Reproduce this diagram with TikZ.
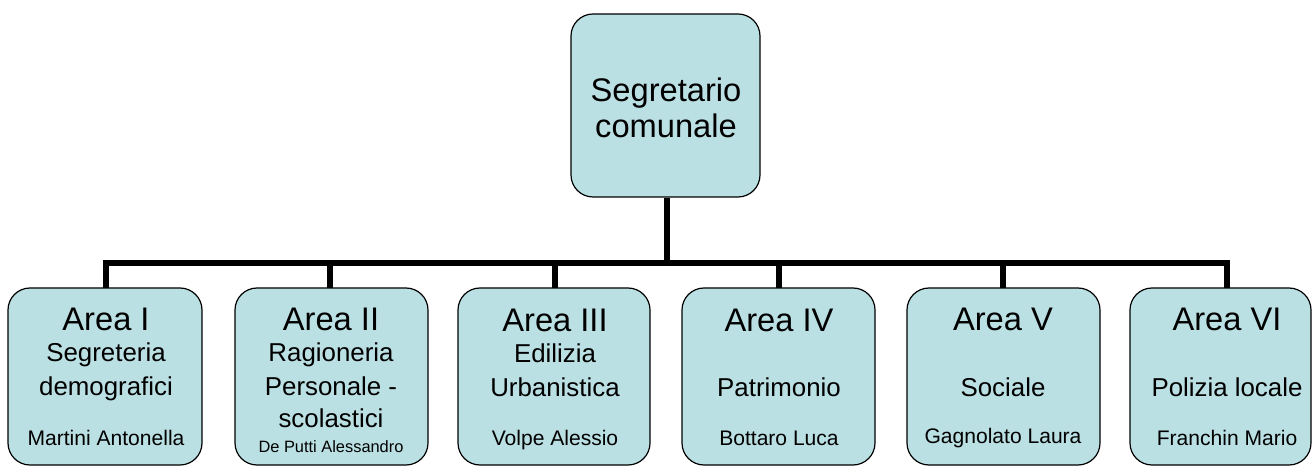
\documentclass[tikz,border=0pt]{standalone}
\usepackage{fontspec}
\setmainfont{Liberation Sans}
\definecolor{boxfill}{HTML}{BBE0E3}
\begin{document}
\begin{tikzpicture}[x=0.75pt,y=-0.75pt,
  box/.style={draw=black, line width=0.9pt, fill=boxfill, rounded corners=16.5pt, inner sep=0pt, minimum height=132.75pt},
  conn/.style={draw=black, line width=4.6pt},
  maintxt/.style={anchor=base, inner sep=0pt, font=\fontsize{24.5}{27}\selectfont},
  subtxt/.style={anchor=base, inner sep=0pt, font=\fontsize{19.4}{23}\selectfont},
  nametxt/.style={anchor=base, inner sep=0pt, font=\fontsize{15.8}{19}\selectfont},
  smalltxt/.style={anchor=base, inner sep=0pt, font=\fontsize{12.3}{15}\selectfont}]
\useasboundingbox (0,0) rectangle (1313,466);
\clip (0,0) rectangle (1313,466);
% connector points
\coordinate (bus) at (667,263);
\coordinate (d1) at (106,288);
\coordinate (d2) at (330,288);
\coordinate (d3) at (555,288);
\coordinate (d4) at (779,288);
\coordinate (d5) at (1003,288);
\coordinate (d6) at (1227,288);
% boxes
\node[box, minimum width=141.75pt, minimum height=137.25pt] (top) at (665.5,105.5) {};
\node[box, minimum width=145.5pt] (a1) at (105,376.5) {};
\node[box, minimum width=144.75pt] (a2) at (331.5,376.5) {};
\node[box, minimum width=144pt] (a3) at (554,376.5) {};
\node[box, minimum width=144.75pt] (a4) at (778.5,376.5) {};
\node[box, minimum width=144.75pt] (a5) at (1003.5,376.5) {};
\node[box, minimum width=135.75pt] (a6) at (1220.5,376.5) {};
% connectors
\draw[conn] (top.south -| bus) -- (bus);
\draw[conn] (d1) |- (bus) -| (d6);
\draw[conn] (d2 |- bus) -- (d2);
\draw[conn] (d3 |- bus) -- (d3);
\draw[conn] (d4 |- bus) -- (d4);
\draw[conn] (d5 |- bus) -- (d5);
% top text
\node[maintxt] (s1) at (666,102) {Segretario};
\node[maintxt] (s2) at (666,138) {comunale};
% area I
\node[maintxt] (t1a) at (106,331) {Area I};
\node[subtxt] (t1b) at (106,362) {Segreteria};
\node[subtxt] (t1c) at (106,395) {demografici};
\node[nametxt] (t1d) at (106,445) {Martini Antonella};
% area II
\node[maintxt] (t2a) at (331,331) {Area II};
\node[subtxt] (t2b) at (331,362) {Ragioneria};
\node[subtxt] (t2c) at (331,395) {Personale -};
\node[subtxt] (t2d) at (331,427) {scolastici};
\node[smalltxt] (t2e) at (331,452) {De Putti Alessandro};
% area III
\node[maintxt] (t3a) at (555,332) {Area III};
\node[subtxt] (t3b) at (555,363) {Edilizia};
\node[subtxt] (t3c) at (555,397) {Urbanistica};
\node[nametxt] (t3d) at (555,445) {Volpe Alessio};
% area IV
\node[maintxt] (t4a) at (779,332) {Area IV};
\node[subtxt] (t4b) at (779,397) {Patrimonio};
\node[nametxt] (t4c) at (779,445) {Bottaro Luca};
% area V
\node[maintxt] (t5a) at (1003,331) {Area V};
\node[subtxt] (t5b) at (1003,397) {Sociale};
\node[nametxt] (t5c) at (1003,443) {Gagnolato Laura};
% area VI
\node[maintxt] (t6a) at (1227,331) {Area VI};
\node[subtxt] (t6b) at (1227,397) {Polizia locale};
\node[nametxt] (t6c) at (1227,445) {Franchin Mario};
\end{tikzpicture}
\end{document}
